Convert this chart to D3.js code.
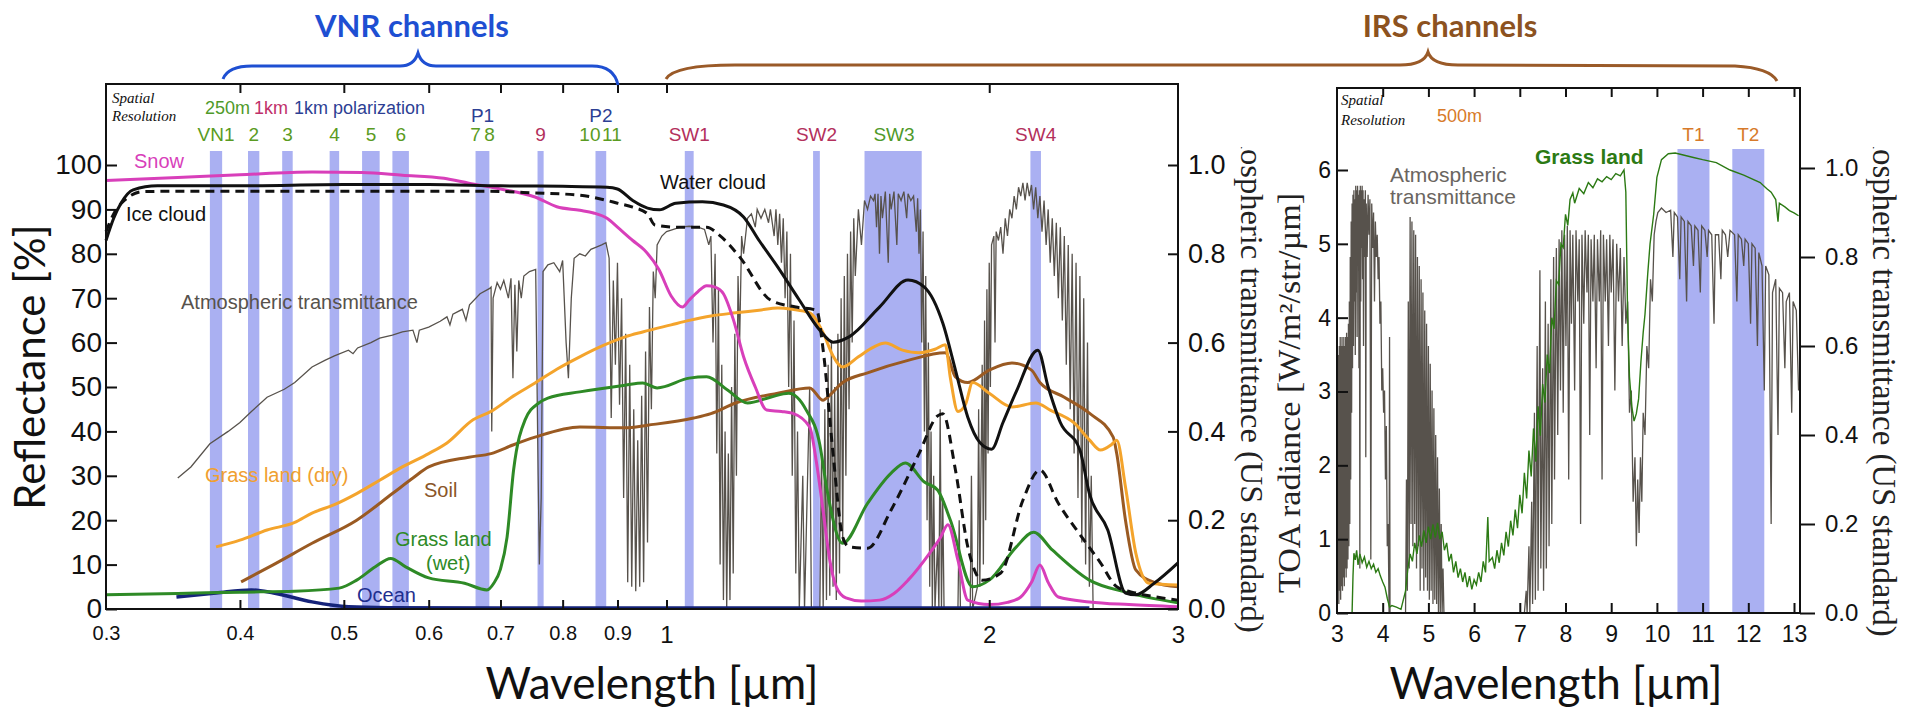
<!DOCTYPE html>
<html><head><meta charset="utf-8">
<script src="https://cdn.jsdelivr.net/npm/d3@7"></script>
<style>body{margin:0;background:#fff}svg{display:block}</style>
</head><body>
<svg id="chart" width="1916" height="710"></svg>
<script>
// ---------------- DATA ----------------
const leftXTicks = [0.3,0.4,0.5,0.6,0.7,0.8,0.9,1,2,3];
const leftXTickLabels = ["0.3","0.4","0.5","0.6","0.7","0.8","0.9","1","2","3"];
const reflTicks = [0,10,20,30,40,50,60,70,80,90,100];
const transTicks = [0,0.2,0.4,0.6,0.8,1.0];
const rightXTicks = [3,4,5,6,7,8,9,10,11,12,13];
const radTicks = [0,1,2,3,4,5,6];

// VNR / SWI band centres and widths (µm)
const leftBandCenters = [0.380,0.412,0.443,0.490,0.530,0.565,0.6735,0.763,0.8685,1.050,1.380,1.630,2.210];
const leftBandWidths  = [0.010,0.010,0.010,0.010,0.020,0.020,0.020,0.010,0.020,0.020,0.020,0.200,0.050];
// TIR bands
const rightBandCenters = [10.8,12.0];
const rightBandWidths  = [0.7,0.7];

const bandLabelText = ["VN1","2","3","4","5","6","7","8","9","10","11","SW1","SW2","SW3","SW4"];
const bandLabelWl   = [0.380,0.412,0.443,0.490,0.530,0.565,0.6735,0.6735,0.763,0.8685,0.8685,1.050,1.380,1.630,2.210];
const bandLabelKind = ["g","g","g","g","g","g","g","g","r","g","g","r","r","g","r"];
const polLabelText = ["P1","P2"];
const polLabelWl = [0.6735,0.8685];
const tirLabelText = ["T1","T2"];
const tirLabelWl = [10.8,12.0];

// Reflectance curves [wavelength µm, reflectance %]
const snow = [[0.30,96.5],[0.35,97.2],[0.40,97.8],[0.467,98.4],[0.52,98.3],[0.567,97.7],[0.62,97.0],[0.654,95.9],[0.70,94.6],[0.754,92.8],[0.79,90.6],[0.83,89.8],[0.855,89.2],[0.88,88.0],[0.90,86.0],[0.93,83.0],[0.953,80.9],[0.984,76.4],[1.01,70.5],[1.035,68.0],[1.05,69.6],[1.07,71.5],[1.09,72.8],[1.11,72.5],[1.13,71.0],[1.155,65],[1.18,56.8],[1.21,50],[1.24,44.8],[1.28,44.5],[1.31,44.1],[1.36,41.0],[1.38,33],[1.40,22],[1.42,11],[1.44,5],[1.47,2.5],[1.52,1.8],[1.58,2.0],[1.63,3.5],[1.68,6.5],[1.76,12.6],[1.80,16],[1.83,19.0],[1.87,11],[1.91,2.0],[2.0,1.0],[2.08,1.5],[2.14,2.7],[2.19,6],[2.23,9.9],[2.27,6],[2.32,2.7],[2.48,1.6],[2.7,1.0],[3.0,0.5]];
const waterCloud = [[0.30,83],[0.305,88],[0.31,91.5],[0.318,94.4],[0.335,95.3],[0.40,95.3],[0.50,95.6],[0.60,95.6],[0.70,95.3],[0.80,95.2],[0.88,95.0],[0.90,94.6],[0.93,92.0],[0.96,90.3],[0.985,89.9],[1.02,91.4],[1.08,91.7],[1.13,91.0],[1.18,88.3],[1.22,83],[1.27,77],[1.33,69.6],[1.39,62.8],[1.43,60.1],[1.48,61.3],[1.58,68],[1.68,74.1],[1.74,72.5],[1.81,64.4],[1.86,53.8],[1.91,43.2],[1.96,37.5],[2.01,36.0],[2.06,42],[2.12,49],[2.22,58.3],[2.27,50],[2.33,42],[2.43,35.8],[2.48,26],[2.58,17.8],[2.68,3.6],[2.74,3.2],[2.85,5.8],[3.0,10.4]];
const iceCloud = [[0.30,85],[0.305,89],[0.312,92],[0.325,94],[0.35,94.1],[0.50,94.1],[0.68,94.1],[0.754,93.7],[0.83,93.2],[0.87,92.3],[0.90,91.4],[0.93,90.5],[0.96,89.0],[0.975,86.5],[1.02,86],[1.09,86],[1.12,84.2],[1.17,79.3],[1.25,69.6],[1.32,68],[1.38,67.3],[1.40,58.3],[1.43,35],[1.46,16.2],[1.48,14],[1.54,13.7],[1.62,22.3],[1.72,35],[1.79,43.5],[1.81,44],[1.86,31.3],[1.91,14],[1.97,6.5],[2.05,8.1],[2.15,24.5],[2.23,31.3],[2.32,23.8],[2.44,16.2],[2.54,10.4],[2.63,5],[2.74,3.6],[2.9,2.5],[3.0,2]];
const grassDry = [[0.38,14],[0.40,15.5],[0.424,17.8],[0.45,19.5],[0.467,21.6],[0.49,23.5],[0.514,26],[0.54,29],[0.567,32],[0.60,35],[0.624,37.4],[0.66,42.6],[0.686,44.5],[0.72,48],[0.754,50.9],[0.79,54],[0.83,56.8],[0.87,59.2],[0.915,61.3],[0.95,62.4],[1.01,64],[1.05,65],[1.10,66],[1.16,66.7],[1.22,67.3],[1.27,67.8],[1.31,67.5],[1.36,66.7],[1.40,62.2],[1.43,57],[1.46,54.5],[1.51,56.8],[1.56,59],[1.60,59.9],[1.66,58.3],[1.72,57.7],[1.78,58.5],[1.82,59.5],[1.84,52],[1.87,44.5],[1.90,46],[1.93,51],[2.0,48.6],[2.1,45.5],[2.21,46.4],[2.28,44.8],[2.40,41.9],[2.48,38.1],[2.54,35.8],[2.60,37],[2.63,38],[2.68,27.5],[2.74,12.6],[2.82,5.8],[3.0,5.4]];
const soil = [[0.401,6.1],[0.43,10],[0.467,14.8],[0.514,20],[0.555,26],[0.58,29.5],[0.60,32],[0.654,34.2],[0.686,35],[0.72,37],[0.754,38.7],[0.83,41],[0.915,40.8],[0.96,41.4],[1.06,43],[1.10,44],[1.16,46.4],[1.27,48.6],[1.36,49.8],[1.40,47],[1.41,47.5],[1.46,51],[1.54,53.2],[1.68,56],[1.82,57.7],[1.86,52.3],[1.91,51],[2.0,53.8],[2.1,55.4],[2.19,53.8],[2.23,51],[2.35,47.7],[2.48,44.1],[2.61,38.7],[2.63,35],[2.68,20],[2.74,8.8],[2.85,6],[3.0,5]];
const grassWet = [[0.30,3.2],[0.35,3.5],[0.40,3.8],[0.45,4.0],[0.495,4.7],[0.514,6.5],[0.535,9.5],[0.553,11.4],[0.571,9.5],[0.60,7],[0.648,5.8],[0.68,4.3],[0.69,5.8],[0.70,9],[0.71,16.2],[0.72,31.3],[0.738,42.6],[0.76,46.4],[0.775,47.5],[0.83,48.9],[0.915,50.4],[0.95,50.9],[0.98,49.8],[1.05,52],[1.09,52.3],[1.14,49.3],[1.19,46.4],[1.25,47.7],[1.30,48.6],[1.35,44.8],[1.39,37],[1.41,27.5],[1.46,14.8],[1.54,23.8],[1.62,30.6],[1.67,32.9],[1.74,28.6],[1.79,26.8],[1.84,20],[1.93,5],[2.0,6.5],[2.12,14],[2.20,17.3],[2.29,13.3],[2.48,6.5],[2.68,3.8],[3.0,1.4]];
const ocean = [[0.349,2.7],[0.38,3.6],[0.41,4.3],[0.43,3.6],[0.467,1.6],[0.505,0.5],[0.55,0.3],[0.7,0.2],[1.0,0.2],[2.48,0.2]];

// Atmospheric transmittance, VNR/SWIR range [wavelength µm, transmittance]
const transLeft = [[0.350,0.295],[0.36,0.32],[0.375,0.372],[0.39,0.40],[0.40,0.42],[0.41,0.445],[0.424,0.477],[0.44,0.495],[0.45,0.51],[0.467,0.545],[0.48,0.56],[0.49,0.57],[0.505,0.583],[0.51,0.575],[0.515,0.588],[0.53,0.60],[0.54,0.61],[0.555,0.617],[0.567,0.624],[0.58,0.628],[0.585,0.60],[0.588,0.628],[0.60,0.635],[0.615,0.648],[0.624,0.658],[0.628,0.64],[0.632,0.664],[0.645,0.675],[0.65,0.65],[0.655,0.685],[0.67,0.71],[0.684,0.722],[0.686,0.725],[0.687,0.40],[0.689,0.70],[0.695,0.735],[0.70,0.72],[0.705,0.74],[0.712,0.70],[0.716,0.745],[0.719,0.52],[0.722,0.73],[0.725,0.58],[0.728,0.74],[0.732,0.70],[0.736,0.75],[0.745,0.76],[0.755,0.765],[0.759,0.30],[0.761,0.10],[0.764,0.25],[0.767,0.76],[0.775,0.775],[0.785,0.78],[0.795,0.76],[0.80,0.785],[0.806,0.60],[0.81,0.52],[0.815,0.70],[0.82,0.79],[0.83,0.80],[0.84,0.795],[0.85,0.81],[0.86,0.815],[0.87,0.82],[0.878,0.825],[0.884,0.79],[0.888,0.43],[0.892,0.74],[0.896,0.55],[0.90,0.78],[0.904,0.46],[0.908,0.70],[0.912,0.25],[0.916,0.62],[0.92,0.06],[0.924,0.55],[0.928,0.05],[0.932,0.45],[0.936,0.04],[0.94,0.38],[0.944,0.05],[0.948,0.48],[0.952,0.06],[0.956,0.58],[0.96,0.15],[0.964,0.68],[0.968,0.45],[0.972,0.76],[0.976,0.70],[0.98,0.82],[0.99,0.84],[1.0,0.85],[1.015,0.855],[1.03,0.86],[1.05,0.862],[1.07,0.86],[1.085,0.855],[1.095,0.82],[1.10,0.84],[1.105,0.60],[1.11,0.80],[1.114,0.35],[1.118,0.72],[1.122,0.10],[1.126,0.55],[1.13,0.02],[1.134,0.40],[1.138,0.00],[1.142,0.35],[1.146,0.02],[1.15,0.50],[1.154,0.08],[1.158,0.62],[1.162,0.30],[1.166,0.75],[1.17,0.60],[1.175,0.84],[1.18,0.80],[1.19,0.88],[1.20,0.89],[1.21,0.86],[1.215,0.90],[1.225,0.88],[1.235,0.90],[1.245,0.87],[1.25,0.90],[1.26,0.84],[1.265,0.90],[1.27,0.82],[1.275,0.89],[1.28,0.78],[1.285,0.88],[1.29,0.70],[1.295,0.85],[1.30,0.50],[1.305,0.80],[1.31,0.30],[1.315,0.65],[1.32,0.08],[1.325,0.40],[1.33,0.0],[1.34,0.30],[1.345,0.0],[1.36,0.50],[1.365,0.0],[1.39,0.0],[1.395,0.35],[1.40,0.0],[1.405,0.45],[1.41,0.02],[1.415,0.55],[1.42,0.03],[1.425,0.60],[1.43,0.05],[1.435,0.50],[1.44,0.02],[1.445,0.62],[1.45,0.08],[1.455,0.70],[1.46,0.15],[1.465,0.75],[1.47,0.30],[1.475,0.80],[1.48,0.45],[1.485,0.85],[1.49,0.60],[1.495,0.88],[1.50,0.75],[1.51,0.90],[1.52,0.82],[1.53,0.92],[1.54,0.90],[1.55,0.93],[1.56,0.92],[1.565,0.935],[1.57,0.86],[1.575,0.935],[1.58,0.80],[1.585,0.93],[1.59,0.88],[1.60,0.94],[1.61,0.78],[1.615,0.935],[1.62,0.90],[1.63,0.94],[1.64,0.82],[1.645,0.935],[1.655,0.92],[1.665,0.94],[1.675,0.88],[1.68,0.935],[1.69,0.92],[1.70,0.93],[1.71,0.85],[1.715,0.925],[1.72,0.80],[1.725,0.90],[1.73,0.60],[1.735,0.85],[1.74,0.40],[1.745,0.75],[1.75,0.20],[1.755,0.60],[1.76,0.05],[1.765,0.40],[1.77,0.0],[1.775,0.30],[1.78,0.0],[1.79,0.15],[1.795,0.0],[1.80,0.45],[1.805,0.0],[1.81,0.25],[1.815,0.0],[1.87,0.0],[1.875,0.2],[1.88,0.0],[1.92,0.0],[1.925,0.3],[1.93,0.0],[1.95,0.05],[1.955,0.45],[1.96,0.05],[1.97,0.55],[1.975,0.10],[1.98,0.65],[1.985,0.20],[1.99,0.72],[1.995,0.35],[2.0,0.78],[2.005,0.50],[2.01,0.82],[2.02,0.84],[2.025,0.60],[2.03,0.85],[2.04,0.83],[2.05,0.86],[2.06,0.80],[2.07,0.88],[2.08,0.84],[2.09,0.90],[2.10,0.88],[2.11,0.93],[2.12,0.90],[2.13,0.95],[2.14,0.93],[2.15,0.96],[2.16,0.92],[2.17,0.96],[2.18,0.93],[2.19,0.955],[2.20,0.90],[2.21,0.95],[2.22,0.88],[2.23,0.93],[2.24,0.85],[2.25,0.92],[2.26,0.82],[2.27,0.90],[2.28,0.78],[2.29,0.88],[2.30,0.75],[2.31,0.87],[2.32,0.70],[2.33,0.86],[2.34,0.65],[2.35,0.84],[2.36,0.55],[2.37,0.82],[2.38,0.45],[2.39,0.80],[2.40,0.35],[2.41,0.78],[2.42,0.25],[2.43,0.75],[2.44,0.15],[2.45,0.70],[2.46,0.10],[2.47,0.60],[2.48,0.05],[2.49,0.30],[2.50,0.0],[3.0,0.0]];

// Atmospheric transmittance, TIR range [wavelength µm, transmittance]
const transRight = [[3.0,0.0],[3.01,0.55],[3.02,0.05],[3.03,0.58],[3.04,0.02],[3.05,0.60],[3.06,0.05],[3.07,0.62],[3.08,0.03],[3.09,0.60],[3.10,0.06],[3.11,0.62],[3.12,0.05],[3.13,0.60],[3.14,0.08],[3.15,0.62],[3.16,0.06],[3.17,0.60],[3.18,0.10],[3.19,0.62],[3.20,0.08],[3.21,0.63],[3.22,0.10],[3.23,0.62],[3.24,0.12],[3.25,0.65],[3.26,0.15],[3.27,0.70],[3.28,0.20],[3.29,0.80],[3.30,0.30],[3.31,0.88],[3.32,0.45],[3.33,0.92],[3.34,0.55],[3.35,0.94],[3.36,0.60],[3.37,0.95],[3.38,0.70],[3.39,0.93],[3.40,0.58],[3.41,0.96],[3.42,0.72],[3.43,0.95],[3.44,0.62],[3.45,0.96],[3.46,0.78],[3.47,0.94],[3.48,0.55],[3.49,0.95],[3.50,0.10],[3.51,0.96],[3.52,0.70],[3.53,0.95],[3.54,0.82],[3.55,0.96],[3.56,0.75],[3.57,0.95],[3.58,0.60],[3.59,0.93],[3.60,0.80],[3.62,0.95],[3.63,0.35],[3.64,0.92],[3.66,0.80],[3.68,0.94],[3.70,0.85],[3.72,0.93],[3.74,0.12],[3.76,0.92],[3.78,0.82],[3.80,0.90],[3.82,0.70],[3.84,0.88],[3.86,0.80],[3.88,0.85],[3.90,0.75],[3.92,0.80],[3.94,0.65],[3.96,0.70],[3.98,0.50],[4.0,0.55],[4.02,0.45],[4.04,0.50],[4.06,0.30],[4.08,0.42],[4.10,0.15],[4.12,0.20],[4.14,0.0],[4.15,0.62],[4.16,0.0],[4.50,0.0],[4.52,0.30],[4.54,0.05],[4.56,0.70],[4.58,0.10],[4.60,0.89],[4.62,0.20],[4.64,0.88],[4.66,0.15],[4.68,0.86],[4.70,0.20],[4.72,0.85],[4.74,0.10],[4.76,0.80],[4.78,0.15],[4.80,0.78],[4.82,0.05],[4.84,0.75],[4.86,0.10],[4.88,0.72],[4.90,0.05],[4.92,0.68],[4.94,0.08],[4.96,0.65],[4.98,0.05],[5.00,0.60],[5.02,0.03],[5.04,0.56],[5.06,0.05],[5.08,0.50],[5.10,0.02],[5.12,0.46],[5.14,0.03],[5.16,0.40],[5.18,0.02],[5.20,0.35],[5.22,0.0],[5.24,0.28],[5.26,0.0],[5.28,0.20],[5.30,0.0],[5.32,0.10],[5.34,0.0],[7.10,0.0],[7.14,0.05],[7.16,0.0],[7.20,0.15],[7.22,0.0],[7.26,0.25],[7.28,0.02],[7.32,0.45],[7.34,0.03],[7.38,0.60],[7.40,0.05],[7.44,0.77],[7.46,0.10],[7.50,0.55],[7.52,0.05],[7.56,0.70],[7.58,0.10],[7.62,0.65],[7.64,0.15],[7.68,0.75],[7.70,0.20],[7.74,0.80],[7.76,0.30],[7.80,0.82],[7.83,0.40],[7.86,0.84],[7.89,0.50],[7.92,0.86],[7.95,0.45],[7.98,0.85],[8.01,0.60],[8.04,0.87],[8.07,0.30],[8.10,0.86],[8.13,0.65],[8.16,0.85],[8.20,0.50],[8.23,0.86],[8.27,0.70],[8.30,0.84],[8.33,0.20],[8.36,0.85],[8.40,0.65],[8.43,0.86],[8.47,0.72],[8.50,0.85],[8.53,0.40],[8.56,0.84],[8.60,0.70],[8.63,0.85],[8.67,0.55],[8.70,0.84],[8.74,0.70],[8.77,0.86],[8.80,0.30],[8.83,0.85],[8.87,0.70],[8.90,0.84],[8.94,0.60],[8.97,0.85],[9.00,0.72],[9.04,0.84],[9.08,0.50],[9.12,0.83],[9.16,0.70],[9.20,0.82],[9.24,0.60],[9.28,0.80],[9.32,0.65],[9.36,0.70],[9.40,0.45],[9.44,0.50],[9.48,0.25],[9.52,0.35],[9.55,0.15],[9.58,0.30],[9.61,0.18],[9.64,0.35],[9.67,0.25],[9.70,0.45],[9.74,0.40],[9.78,0.60],[9.82,0.55],[9.86,0.75],[9.90,0.70],[9.94,0.85],[9.98,0.88],[10.02,0.90],[10.1,0.91],[10.2,0.90],[10.3,0.905],[10.35,0.80],[10.38,0.90],[10.45,0.89],[10.5,0.75],[10.53,0.89],[10.6,0.88],[10.65,0.70],[10.68,0.88],[10.75,0.87],[10.8,0.78],[10.83,0.87],[10.9,0.86],[10.95,0.72],[10.98,0.87],[11.05,0.86],[11.1,0.80],[11.13,0.86],[11.2,0.85],[11.25,0.65],[11.28,0.85],[11.35,0.85],[11.4,0.75],[11.43,0.86],[11.5,0.85],[11.55,0.80],[11.6,0.86],[11.7,0.85],[11.75,0.70],[11.78,0.85],[11.85,0.84],[11.9,0.78],[11.93,0.84],[12.0,0.83],[12.05,0.65],[12.08,0.83],[12.15,0.82],[12.2,0.60],[12.23,0.81],[12.3,0.78],[12.35,0.50],[12.38,0.78],[12.45,0.76],[12.5,0.20],[12.53,0.72],[12.6,0.75],[12.65,0.40],[12.68,0.73],[12.75,0.72],[12.8,0.55],[12.83,0.70],[12.9,0.72],[12.95,0.45],[12.98,0.70],[13.05,0.68],[13.1,0.50]];

// Grass land TOA radiance [wavelength µm, W/m2/str/µm]
const grassTIR = [[3.33,0.0],[3.35,0.5],[3.37,0.81],[3.40,0.72],[3.43,0.85],[3.46,0.65],[3.50,0.80],[3.55,0.68],[3.60,0.76],[3.65,0.62],[3.70,0.70],[3.75,0.60],[3.80,0.66],[3.85,0.55],[3.90,0.60],[3.95,0.50],[4.0,0.42],[4.05,0.35],[4.10,0.20],[4.15,0.08],[4.2,0.10],[4.3,0.08],[4.4,0.05],[4.5,0.30],[4.55,0.60],[4.6,0.80],[4.65,0.70],[4.7,0.95],[4.75,0.80],[4.8,1.05],[4.85,0.90],[4.9,1.12],[4.95,0.95],[5.0,1.17],[5.05,1.00],[5.1,1.20],[5.15,1.02],[5.2,1.22],[5.25,1.00],[5.3,1.10],[5.35,0.85],[5.4,0.95],[5.45,0.70],[5.5,0.80],[5.55,0.55],[5.6,0.70],[5.65,0.48],[5.7,0.60],[5.75,0.42],[5.8,0.55],[5.85,0.35],[5.9,0.50],[5.95,0.32],[6.0,0.45],[6.05,0.38],[6.1,0.55],[6.15,0.42],[6.2,0.70],[6.25,0.55],[6.3,1.30],[6.33,0.70],[6.4,0.75],[6.45,0.60],[6.5,0.85],[6.55,0.68],[6.6,0.95],[6.65,0.78],[6.7,1.10],[6.75,0.90],[6.8,1.25],[6.85,1.05],[6.9,1.40],[6.95,1.15],[7.0,1.60],[7.05,1.35],[7.1,1.90],[7.15,1.55],[7.2,2.20],[7.25,1.85],[7.3,2.50],[7.35,2.05],[7.4,2.80],[7.45,2.40],[7.5,3.10],[7.55,2.85],[7.6,3.50],[7.65,3.25],[7.7,4.00],[7.75,3.85],[7.8,4.50],[7.85,4.45],[7.9,5.00],[7.95,4.95],[8.0,5.40],[8.05,5.25],[8.1,5.60],[8.16,5.69],[8.2,5.55],[8.3,5.75],[8.4,5.68],[8.5,5.83],[8.6,5.76],[8.7,5.88],[8.8,5.84],[8.9,5.91],[9.0,5.87],[9.1,5.95],[9.2,5.92],[9.28,6.0],[9.32,5.70],[9.36,4.00],[9.40,3.20],[9.45,2.80],[9.5,2.60],[9.55,2.70],[9.6,2.90],[9.65,3.40],[9.7,3.80],[9.74,4.05],[9.8,4.60],[9.85,5.00],[9.93,5.40],[10.0,5.90],[10.1,6.14],[10.25,6.22],[10.4,6.23],[10.6,6.20],[10.8,6.17],[11.0,6.14],[11.3,6.10],[11.6,6.00],[11.9,5.93],[12.26,5.83],[12.4,5.75],[12.5,5.70],[12.6,5.60],[12.65,5.30],[12.68,5.55],[12.8,5.50],[12.9,5.45],[13.0,5.42],[13.1,5.38]];

// ---------------- DRAWING ----------------
const SANS = "'Liberation Sans', Arial, sans-serif";
const SERIF = "'Liberation Serif', 'Times New Roman', serif";
const TITLE = "Lato, 'Open Sans', sans-serif";
const BAND = "#aab0f2";
const GREY = "#57524c";

const svg = d3.select("#chart");
svg.append("defs").append("clipPath").attr("id","clipTop")
  .append("rect").attr("x",0).attr("y",147).attr("width",1916).attr("height",600);

const xL = d3.scaleLog().domain([0.3,3]).range([106,1178]);
const yL = d3.scaleLinear().domain([0,100]).range([609,165]);
const yLT = d3.scaleLinear().domain([0,1]).range([609,165]);
const xR = d3.scaleLinear().domain([3,13]).range([1337,1794]);
const yRad = d3.scaleLinear().domain([0,6]).range([613,170]);
const yRT = d3.scaleLinear().domain([0,1]).range([613,168]);

// ---- bands ----
const gL = svg.append("g");
gL.selectAll("rect.band").data(leftBandCenters).join("rect")
  .attr("x",(c,i)=>xL(c-leftBandWidths[i]/2))
  .attr("width",(c,i)=>xL(c+leftBandWidths[i]/2)-xL(c-leftBandWidths[i]/2))
  .attr("y",151).attr("height",609-151).attr("fill",BAND);
const gR = svg.append("g");
gR.selectAll("rect.band").data(rightBandCenters).join("rect")
  .attr("x",(c,i)=>xR(c-rightBandWidths[i]/2))
  .attr("width",(c,i)=>xR(c+rightBandWidths[i]/2)-xR(c-rightBandWidths[i]/2))
  .attr("y",149).attr("height",613-149).attr("fill",BAND);

// ---- lines ----
const lineT = d3.line().x(d=>xL(d[0])).y(d=>yLT(d[1]));
gL.append("path").datum(transLeft).attr("d",lineT).attr("fill","none").attr("stroke",GREY).attr("stroke-width",1.3);

const lineR = d3.line().x(d=>xL(d[0])).y(d=>yL(d[1])).curve(d3.curveMonotoneX);
const curves = [
  {data:ocean, color:"#15237a", w:3.5},
  {data:soil, color:"#9a5a22", w:3},
  {data:grassDry, color:"#f4a42c", w:3},
  {data:grassWet, color:"#2e8a26", w:3},
  {data:snow, color:"#d83fba", w:3},
  {data:iceCloud, color:"#111", w:3, dash:"9,6"},
  {data:waterCloud, color:"#111", w:3}
];
curves.forEach(c=>{
  gL.append("path").datum(c.data).attr("d",lineR).attr("fill","none")
    .attr("stroke",c.color).attr("stroke-width",c.w)
    .attr("stroke-dasharray",c.dash||null).attr("stroke-linejoin","round");
});

const lineRT = d3.line().x(d=>xR(d[0])).y(d=>yRT(d[1]));
gR.append("path").datum(transRight).attr("d",lineRT).attr("fill","none").attr("stroke",GREY).attr("stroke-width",1.3);
const lineRad = d3.line().x(d=>xR(d[0])).y(d=>yRad(d[1]));
gR.append("path").datum(grassTIR).attr("d",lineRad).attr("fill","none").attr("stroke","#2c7a14").attr("stroke-width",1.4);

// ---- frames ----
svg.append("rect").attr("x",106).attr("y",84).attr("width",1178-106).attr("height",609-84)
  .attr("fill","none").attr("stroke","#111").attr("stroke-width",2);
svg.append("rect").attr("x",1337).attr("y",88).attr("width",1800-1337).attr("height",613-88)
  .attr("fill","none").attr("stroke","#111").attr("stroke-width",2);

function styleAxis(g, size, family){
  g.select(".domain").remove();
  g.selectAll(".tick line").attr("stroke","#111").attr("stroke-width",2);
  g.selectAll(".tick text").attr("font-family",family||SANS).attr("font-size",size).attr("fill","#111");
}

// left panel axes
const axB = svg.append("g").attr("transform","translate(0,609)")
  .call(d3.axisBottom(xL).tickValues(leftXTicks).tickFormat((d,i)=>leftXTickLabels[i]).tickSizeInner(-9).tickSizeOuter(0).tickPadding(17));
styleAxis(axB, 20);
axB.selectAll(".tick").filter(d=>d===0.3||d===3).select("line").remove();
axB.selectAll(".tick text").filter(d=>d>=1).attr("font-size",24);
const axT = svg.append("g").attr("transform","translate(0,84)")
  .call(d3.axisTop(xL).tickValues(leftXTicks.slice(1,-1)).tickFormat("").tickSizeInner(-9).tickSizeOuter(0));
styleAxis(axT, 10);
const axYL = svg.append("g").attr("transform","translate(106,0)")
  .call(d3.axisLeft(yL).tickValues(reflTicks).tickSizeInner(-11).tickSizeOuter(0).tickPadding(4));
styleAxis(axYL, 28);
const axYLT = svg.append("g").attr("transform","translate(1178,0)")
  .call(d3.axisRight(yLT).tickValues(transTicks).tickFormat(d3.format(".1f")).tickSizeInner(-10).tickSizeOuter(0).tickPadding(10));
styleAxis(axYLT, 27);

// right panel axes
const axRB = svg.append("g").attr("transform","translate(0,613)")
  .call(d3.axisBottom(xR).tickValues(rightXTicks).tickFormat(d3.format("d")).tickSizeInner(-10).tickSizeOuter(0).tickPadding(13));
styleAxis(axRB, 23);
axRB.selectAll(".tick").filter(d=>d===3).select("line").remove();
const axRT = svg.append("g").attr("transform","translate(0,88)")
  .call(d3.axisTop(xR).tickValues(rightXTicks.slice(1)).tickFormat("").tickSizeInner(-9).tickSizeOuter(0));
styleAxis(axRT, 10);
const axRYL = svg.append("g").attr("transform","translate(1337,0)")
  .call(d3.axisLeft(yRad).tickValues(radTicks).tickFormat(d3.format("d")).tickSizeInner(-11).tickSizeOuter(0).tickPadding(6));
styleAxis(axRYL, 23);
const axRYR = svg.append("g").attr("transform","translate(1800,0)")
  .call(d3.axisRight(yRT).tickValues(transTicks).tickFormat(d3.format(".1f")).tickSizeInner(15).tickSizeOuter(0).tickPadding(10));
styleAxis(axRYR, 24);

// ---- text helpers ----
function txt(x,y,s,opt){
  opt=opt||{};
  return svg.append("text").attr("x",x).attr("y",y).text(s)
    .attr("font-family",opt.family||SANS).attr("font-size",opt.size||20)
    .attr("fill",opt.color||"#111").attr("text-anchor",opt.anchor||"start")
    .attr("font-weight",opt.weight||"normal").attr("font-style",opt.style||"normal");
}

// band label rows
const kindColor = {g:"#5a9b22", r:"#b3305c"};
const offsets = {"7":-7,"8":7,"10":-11,"11":11};
bandLabelText.forEach((t,i)=>{
  const col = (t==="SW3") ? "#4f9a2a" : kindColor[bandLabelKind[i]];
  txt(xL(bandLabelWl[i])+(offsets[t]||0),141,t,{size:19,color:col,anchor:"middle"});
});
polLabelText.forEach((t,i)=>txt(xL(polLabelWl[i]),122,t,{size:19,color:"#2d3f94",anchor:"middle"}));
tirLabelText.forEach((t,i)=>txt(xR(tirLabelWl[i]),141,t,{size:19,color:"#d77a2a",anchor:"middle"}));

txt(112,103,"Spatial",{family:SERIF,size:15,style:"italic"});
txt(112,121,"Resolution",{family:SERIF,size:15,style:"italic"});
txt(205,114,"250m",{size:18,color:"#4f9a2a"});
txt(254,114,"1km",{size:18,color:"#c0306a"});
txt(294,114,"1km polarization",{size:18,color:"#2d3f94"});
txt(1341,105,"Spatial",{family:SERIF,size:15,style:"italic"});
txt(1341,125,"Resolution",{family:SERIF,size:15,style:"italic"});
txt(1437,122,"500m",{size:18,color:"#d77a2a"});

// curve labels
txt(134,168,"Snow",{color:"#d83fba"});
txt(126,221,"Ice cloud");
txt(660,189,"Water cloud");
txt(181,309,"Atmospheric transmittance",{color:"#57524c"});
txt(205,482,"Grass land (dry)",{color:"#f0a030"});
txt(424,497,"Soil",{color:"#8a5528"});
txt(395,546,"Grass land",{color:"#2e8a26"});
txt(426,570,"(wet)",{color:"#2e8a26"});
txt(357,602,"Ocean",{color:"#1f2f8f"});
txt(1535,164,"Grass land",{color:"#2c7a14",size:21,weight:"bold"});
txt(1390,182,"Atmospheric",{color:"#6a6560",size:21});
txt(1390,204,"transmittance",{color:"#6a6560",size:21});

// axis titles
txt(652,699,"Wavelength [µm]",{family:TITLE,size:44,anchor:"middle"});
txt(1556,699,"Wavelength [µm]",{family:TITLE,size:44,anchor:"middle"});
svg.append("text").attr("transform","translate(45,367) rotate(-90)").attr("text-anchor","middle")
  .attr("font-family",TITLE).attr("font-size",42).attr("fill","#111").text("Reflectance [%]");

// rotated serif axis labels (top cut off by the panel edge, as in the source figure)
const gc = svg.append("g").attr("clip-path","url(#clipTop)");
function clippedLabel(x, yVisible, yEnd, s){
  const t = gc.append("text").attr("font-family",SERIF).attr("font-size",32).attr("fill","#222").text(s);
  const total = t.node().getComputedTextLength();
  const hidden = t.node().getSubStringLength(0,3);
  const fs = 32*(yEnd-yVisible)/(total-hidden);
  const hiddenS = hidden*fs/32;
  t.attr("font-size",fs).attr("transform",`translate(${x},${yVisible-hiddenS}) rotate(90)`);
}
clippedLabel(1241,149,633,"Atmospheric transmittance (US standard)");
clippedLabel(1873,149,637,"Atmospheric transmittance (US standard)");
svg.append("text").attr("transform","translate(1300,593) rotate(-90)").attr("font-family",SERIF)
  .attr("font-size",31).attr("fill","#222").attr("textLength",400).attr("lengthAdjust","spacingAndGlyphs")
  .text("TOA radiance [W/m²/str/µm]");

// channel titles and braces
txt(412,37,"VNR channels",{family:TITLE,size:31,weight:"bold",color:"#1e4fd2",anchor:"middle"});
txt(1450,37,"IRS channels",{family:TITLE,size:31,weight:"bold",color:"#8c5220",anchor:"middle"});
svg.append("path").attr("d","M223,79 Q228,66 252,66 L400,66 Q414,66 418,53 Q422,66 436,66 L592,66 Q614,66 618,85")
  .attr("fill","none").attr("stroke","#1e4fd2").attr("stroke-width",3);
svg.append("path").attr("d","M666,79 Q674,65 735,65 L1400,65 Q1424,65 1428,52 Q1432,65 1458,65 L1735,66 Q1770,68 1777,81")
  .attr("fill","none").attr("stroke","#9a5a28").attr("stroke-width",3);
</script>
</body></html>
